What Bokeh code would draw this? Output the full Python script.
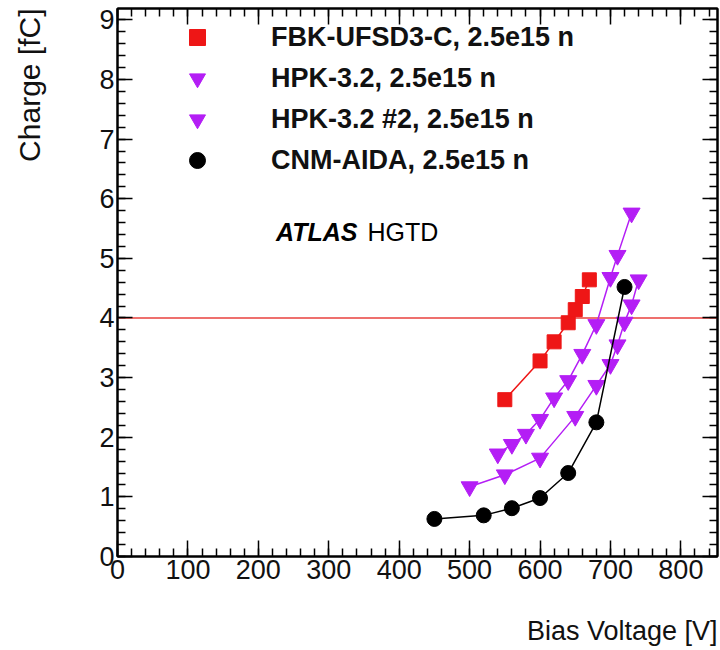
import math
from bokeh.plotting import figure
from bokeh.models import (Range1d, LinearAxis, SingleIntervalTicker, FixedTicker,
                          Span, Label, Legend, LegendItem, Title)
from bokeh.embed import file_html
from bokeh.resources import INLINE

# ---------------- data ----------------
fbk_v = [550, 600, 620, 640, 650, 660, 670]
fbk_q = [2.63, 3.28, 3.60, 3.92, 4.14, 4.36, 4.64]

hpk1_v = [540, 560, 580, 600, 620, 640, 660, 680, 700, 710, 730]
hpk1_q = [1.72, 1.88, 2.05, 2.30, 2.66, 2.95, 3.39, 3.89, 4.68, 5.05, 5.76]

hpk2_v = [500, 550, 600, 650, 680, 700, 710, 720, 730, 740]
hpk2_q = [1.17, 1.37, 1.65, 2.35, 2.87, 3.22, 3.55, 3.93, 4.22, 4.64]

cnm_v = [450, 520, 560, 600, 640, 680, 720]
cnm_q = [0.63, 0.69, 0.81, 0.98, 1.40, 2.25, 4.52]

labels = ["FBK-UFSD3-C, 2.5e15 n", "HPK-3.2, 2.5e15 n",
          "HPK-3.2 #2, 2.5e15 n", "CNM-AIDA, 2.5e15 n"]
threshold = 4.0
x_title = "Bias Voltage [V]"
y_title = "Charge [fC]"
x_max = 852
y_max = 9.19

RED = "#ee1616"
VIOLET = "#b41ef5"
FONT = "Liberation Sans"

p = figure(width=720, height=650, output_backend="svg", toolbar_location=None,
           x_range=Range1d(0, x_max), y_range=Range1d(0, y_max),
           min_border_left=117, min_border_right=3, min_border_top=8,
           min_border_bottom=94, x_axis_location=None, y_axis_location=None)
p.grid.visible = False
p.outline_line_color = "black"
p.outline_line_width = 2
p.background_fill_color = "white"
p.border_fill_color = "white"


def style_axis(ax, show_labels, major_len, minor_len):
    ax.axis_line_width = 2
    ax.axis_line_color = "black"
    ax.major_tick_in = major_len
    ax.major_tick_out = 0
    ax.minor_tick_in = minor_len
    ax.minor_tick_out = 0
    ax.major_tick_line_width = 1.5
    ax.minor_tick_line_width = 1.5
    ax.major_label_text_font = FONT
    if show_labels:
        ax.major_label_text_font_size = "27px"
        ax.major_label_text_color = "#111111"
        ax.major_label_standoff = 3
    else:
        ax.major_label_text_font_size = "0px"
        ax.major_label_text_color = None
        ax.major_label_standoff = 0


def spacer_axis(gap, tick_at):
    # label-less axis whose single white outward tick reserves `gap` pixels
    # between the tick labels and the axis title
    ax = LinearAxis(ticker=FixedTicker(ticks=[tick_at]))
    ax.axis_line_color = None
    ax.major_tick_line_color = "white"
    ax.major_tick_line_width = 1
    ax.minor_tick_line_color = None
    ax.major_tick_in = 0
    ax.major_tick_out = gap
    ax.minor_tick_in = 0
    ax.minor_tick_out = 0
    ax.major_label_standoff = 0
    ax.major_label_text_font_size = "0px"
    ax.major_label_text_color = None
    return ax


xb = LinearAxis(ticker=SingleIntervalTicker(interval=100, num_minor_ticks=5))
style_axis(xb, True, 16, 8)
p.add_layout(xb, "below")
xt = LinearAxis(ticker=SingleIntervalTicker(interval=100, num_minor_ticks=5))
style_axis(xt, False, 16, 8)
p.add_layout(xt, "above")
yl = LinearAxis(ticker=SingleIntervalTicker(interval=1, num_minor_ticks=5))
style_axis(yl, True, 15, 8)
p.add_layout(yl, "left")
yr = LinearAxis(ticker=SingleIntervalTicker(interval=1, num_minor_ticks=5))
style_axis(yr, False, 15, 8)
p.add_layout(yr, "right")

# axis titles at the end of each axis (ROOT style)
p.add_layout(spacer_axis(32, x_max), "below")
p.add_layout(Title(text=x_title, align="right", text_font=FONT,
                   text_font_size="27px", text_font_style="normal",
                   text_color="#111111", standoff=0), "below")
p.add_layout(spacer_axis(51, 0), "left")
p.add_layout(Title(text=y_title, align="right", text_font=FONT,
                   text_font_size="30px", text_font_style="normal",
                   text_color="#111111", standoff=0), "left")

p.add_layout(Span(location=threshold, dimension="width", line_color="#e8413c",
                  line_width=1.5, level="underlay"))

# series
p.line(fbk_v, fbk_q, line_color=RED, line_width=1.5)
r_fbk = p.scatter(fbk_v, fbk_q, marker="square", size=14, color=RED)

p.line(hpk1_v, hpk1_q, line_color=VIOLET, line_width=1.5)
r_h1 = p.scatter(hpk1_v, hpk1_q, marker="inverted_triangle", size=17, color=VIOLET)

p.line(hpk2_v, hpk2_q, line_color=VIOLET, line_width=1.5)
r_h2 = p.scatter(hpk2_v, hpk2_q, marker="inverted_triangle", size=17, color=VIOLET)

p.line(cnm_v, cnm_q, line_color="black", line_width=1.5)
r_cnm = p.scatter(cnm_v, cnm_q, marker="circle", size=15, color="black")

legend = Legend(items=[LegendItem(label=labels[0], renderers=[r_fbk]),
                       LegendItem(label=labels[1], renderers=[r_h1]),
                       LegendItem(label=labels[2], renderers=[r_h2]),
                       LegendItem(label=labels[3], renderers=[r_cnm])],
                location=(60, 376), padding=0, margin=0, spacing=1,
                glyph_width=40, glyph_height=40, label_standoff=54,
                border_line_color=None, background_fill_alpha=0,
                label_text_font=FONT, label_text_font_style="bold",
                label_text_font_size="27px", label_text_color="#111111")
p.add_layout(legend, "center")

# ATLAS HGTD
p.add_layout(Label(x=225, y=5.44, text="ATLAS", text_font=FONT,
                   text_font_style="bold italic", text_font_size="25px",
                   text_baseline="alphabetic", text_color="black"))
p.add_layout(Label(x=355, y=5.44, text="HGTD", text_font=FONT,
                   text_font_size="25px", text_baseline="alphabetic",
                   text_color="black"))

open("out.html", "w").write(file_html(p, INLINE))
